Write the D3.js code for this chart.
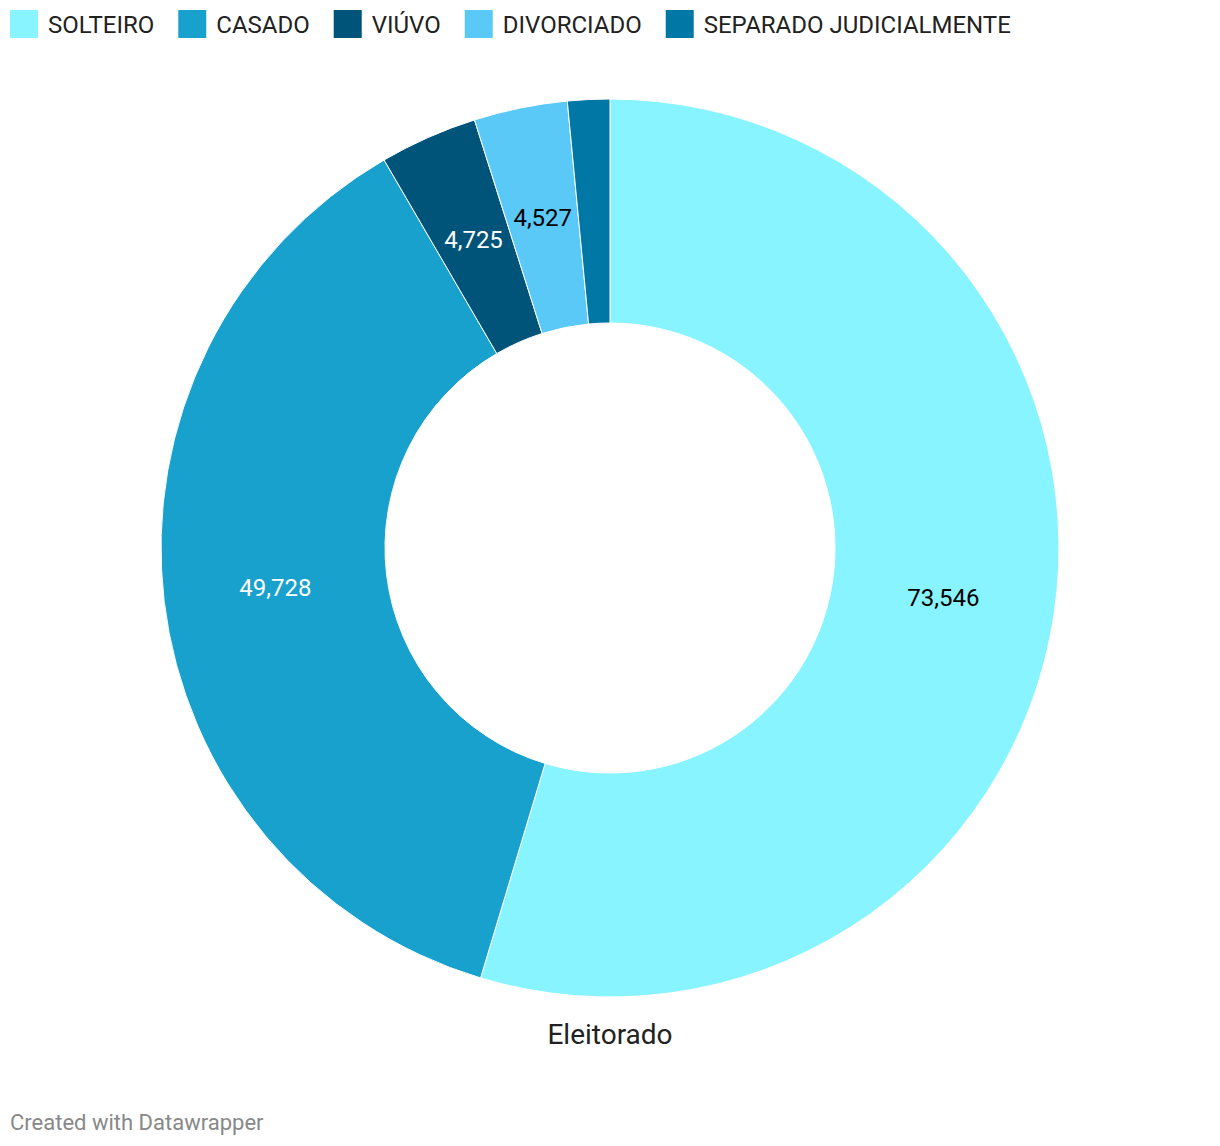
<!DOCTYPE html>
<html><head><meta charset="utf-8">
<script src="https://cdn.jsdelivr.net/npm/d3@7"></script>
<style>body{margin:0;background:#fff;font-family:Roboto,sans-serif}</style>
</head><body>
<svg id="c" width="1220" height="1146"></svg>
<script>
const categories = ["SOLTEIRO","CASADO","VIÚVO","DIVORCIADO","SEPARADO JUDICIALMENTE"];
const values = [73546, 49728, 4725, 4527, 2040];
const colors = ["#88f4ff","#19a1cd","#005479","#5bc9f7","#0077a5"];
const labelColors = ["#000","#fff","#fff","#000","#fff"];
const chartTitle = "Eleitorado";
const credit = "Created with Datawrapper";

const svg = d3.select("#c");
const cx = 610, cy = 548, R = 449, r = 225;

// legend
const leg = svg.append("g");
let x = 10;
categories.forEach((c,i)=>{
  leg.append("rect").attr("x",x).attr("y",10).attr("width",28).attr("height",28).attr("fill",colors[i]);
  const t = leg.append("text").attr("x",x+38).attr("y",32.5).attr("font-size",24).attr("fill","#222").text(c);
  x += 38 + t.node().getComputedTextLength() + 24;
});

const pie = d3.pie().sort(null).value(d=>d);
const arcs = pie(values);
const arc = d3.arc().innerRadius(r).outerRadius(R);
const g = svg.append("g").attr("transform",`translate(${cx},${cy})`);
g.selectAll("path").data(arcs).join("path")
  .attr("d",arc).attr("fill",(d,i)=>colors[i]).attr("stroke","#fff").attr("stroke-width",1);
const fmt = d3.format(",");
g.selectAll("text").data(arcs.filter(d=>d.endAngle-d.startAngle>0.15)).join("text")
  .attr("transform",d=>`translate(${arc.centroid(d)})`)
  .attr("text-anchor","middle").attr("dy","0.35em")
  .attr("font-size",24)
  .attr("fill",d=>labelColors[d.index])
  .text(d=>fmt(d.data));

svg.append("text").attr("x",cx).attr("y",1044).attr("text-anchor","middle")
  .attr("font-size",28).attr("fill","#222").text(chartTitle);
svg.append("text").attr("x",10).attr("y",1130).attr("font-size",22).attr("fill","#888").text(credit);
</script>
</body></html>
